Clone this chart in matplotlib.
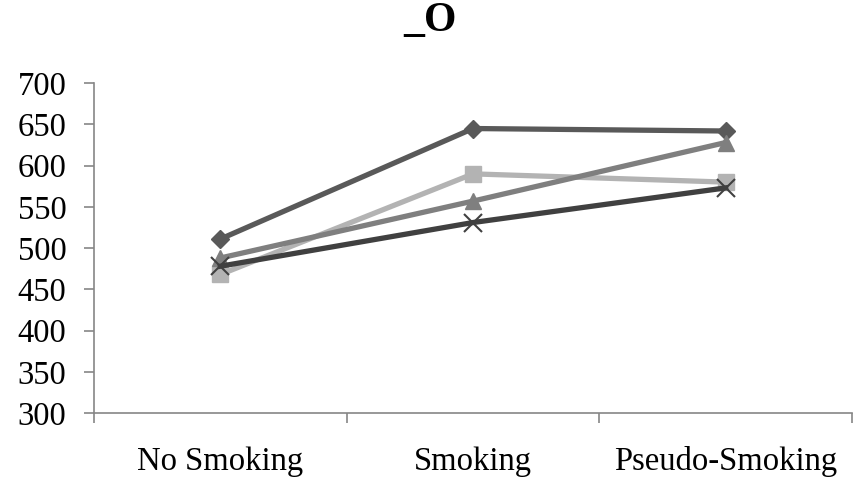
import matplotlib.pyplot as plt
import numpy as np

# Data
categories = ['No Smoking', 'Smoking', 'Pseudo-Smoking']
diamond_vals = [511, 645, 642]
square_vals = [468, 590, 580]
triangle_vals = [488, 557, 628]
cross_vals = [478, 531, 573]

plt.rcParams['font.family'] = 'Liberation Serif'

fig = plt.figure(figsize=(8.55, 4.78), dpi=100)
ax = fig.add_axes([0.110, 0.136, 0.8865, 0.690])

x = np.arange(len(categories))

ax.plot(x, diamond_vals, color='#595959', lw=3.8, marker='D', ms=9, zorder=3)
ax.plot(x, square_vals, color='#b3b3b3', lw=3.8, marker='s', ms=11, zorder=3)
ax.plot(x, triangle_vals, color='#7f7f7f', lw=3.8, marker='^', ms=12, zorder=3)
ax.plot(x, cross_vals, color='#404040', lw=3.8, marker='x', ms=13, mew=1.5, zorder=4)

ax.set_ylim(300, 700)
ax.set_yticks(np.arange(300, 701, 50))
ax.set_xlim(-0.5, 2.5)
ax.set_xticks(x)
ax.set_xticklabels(categories)
ax.set_xticks([-0.5, 0.5, 1.5, 2.5], minor=True)

ax.tick_params(axis='x', which='major', length=0, pad=24, labelsize=23.5)
ax.tick_params(axis='x', which='minor', length=7, width=1.2, color='#868686')
ax.tick_params(axis='y', length=7, width=1.2, color='#868686', pad=13, labelsize=23.5)

for side in ['top', 'right']:
    ax.spines[side].set_visible(False)
for side in ['left', 'bottom']:
    ax.spines[side].set_color('#868686')
    ax.spines[side].set_linewidth(1.2)

fig.suptitle('_O', fontsize=30, fontweight='bold', x=0.503, y=0.995, va='top')

fig.savefig('out.png', dpi=100)
